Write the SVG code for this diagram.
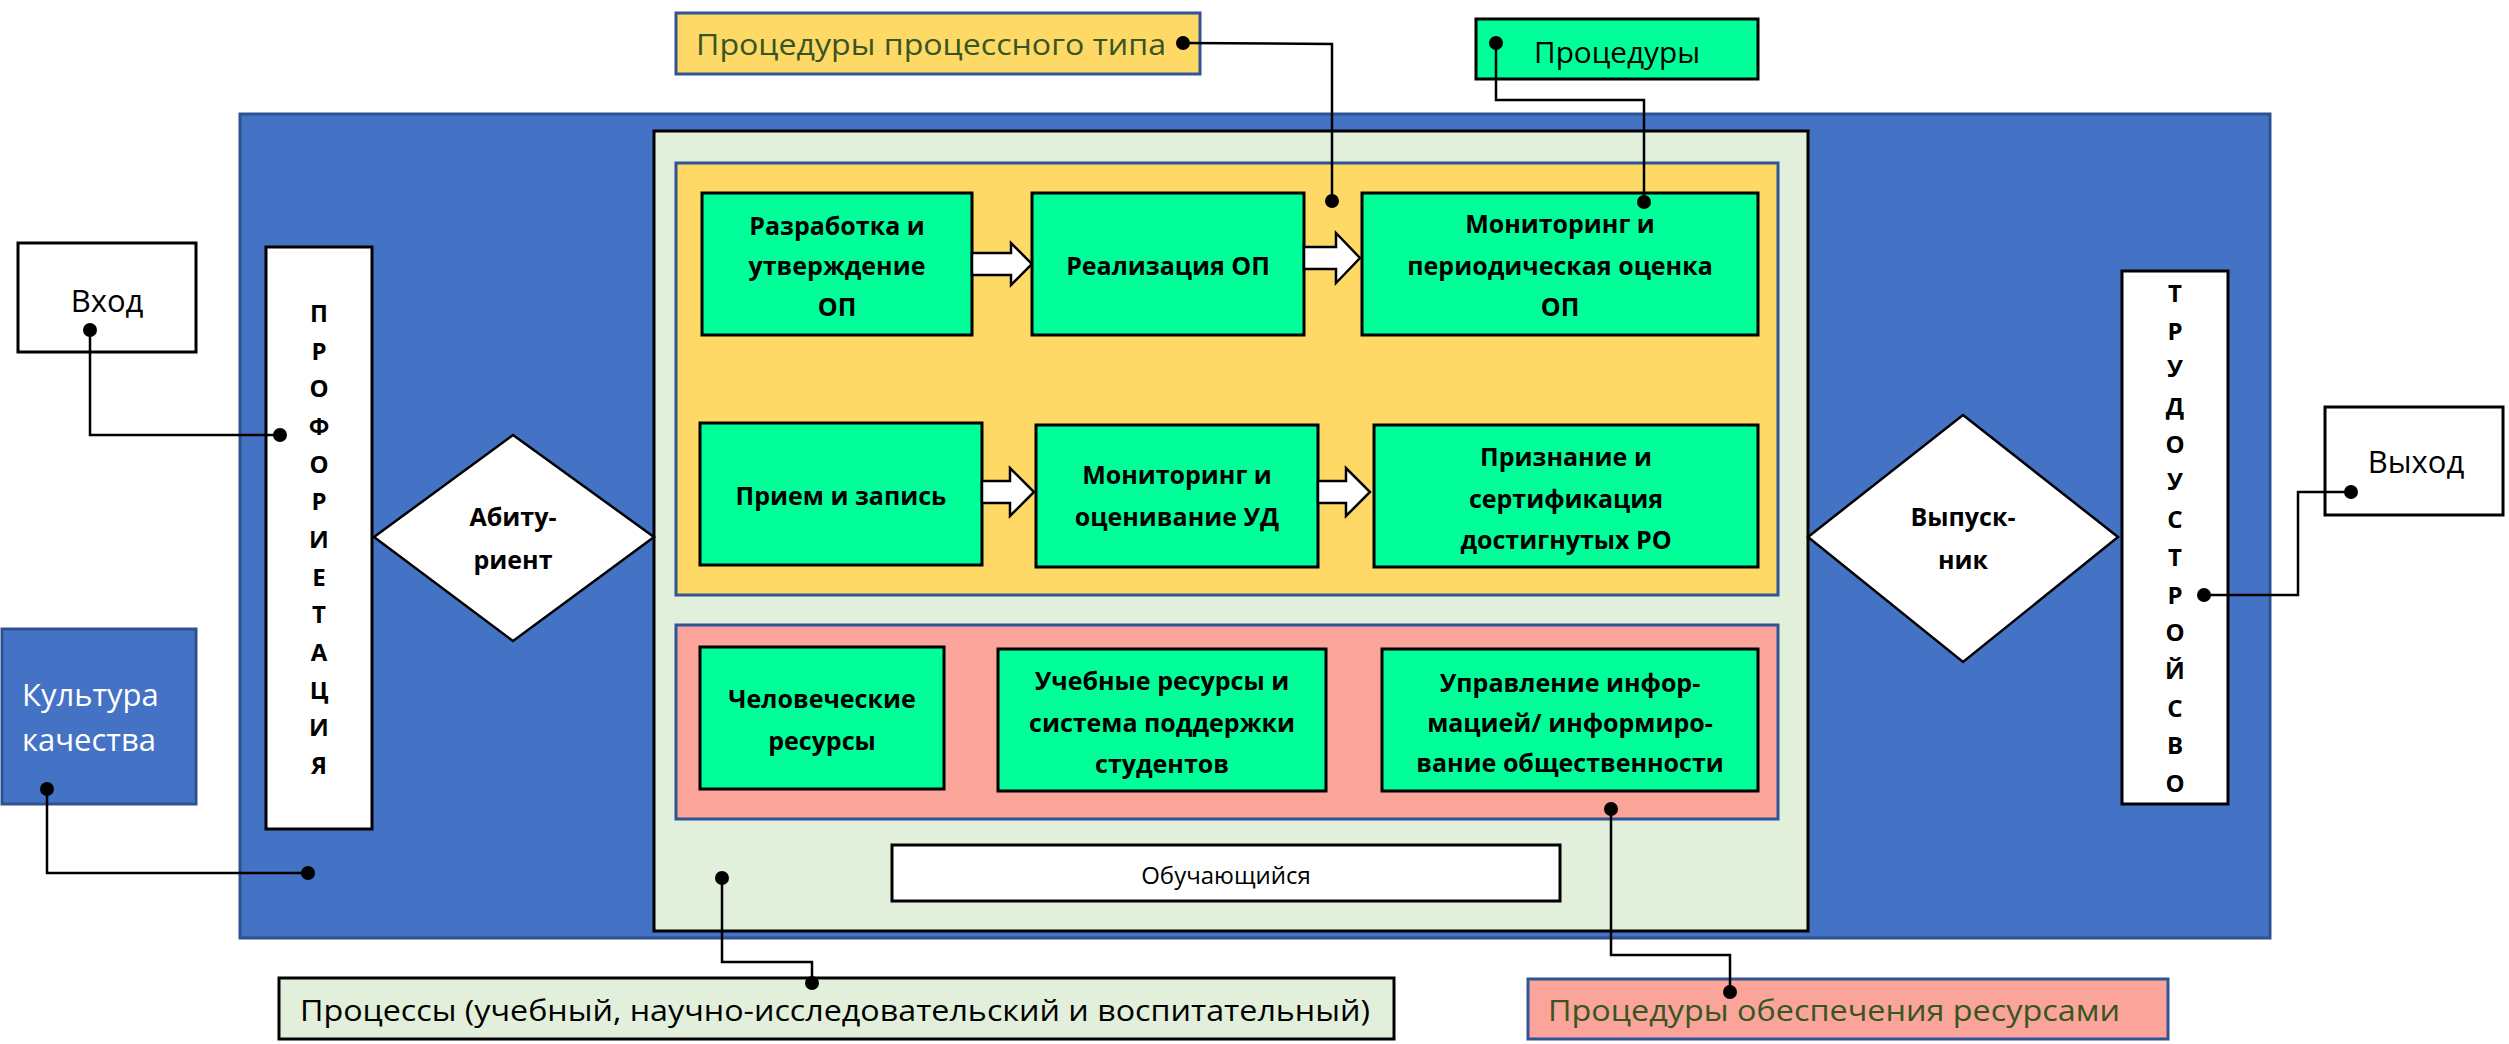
<svg xmlns="http://www.w3.org/2000/svg" width="2509" height="1044" viewBox="0 0 2509 1044">
<defs>
<style>
.box{fill:#00FF99;stroke:#000;stroke-width:3}
.wbox{fill:#FFFFFF;stroke:#000;stroke-width:3}
.bt{font-family:"Open Sans","Liberation Sans",Arial,sans-serif;font-weight:bold;font-size:25px;text-anchor:middle;fill:#000}
.vt{font-family:"Open Sans","Liberation Sans",Arial,sans-serif;font-weight:bold;font-size:24px;text-anchor:middle;fill:#000}
.rt{font-family:"Open Sans","Liberation Sans",Arial,sans-serif;font-size:29px;fill:#000}
.lt{font-size:31px}
.gt{fill:#375623}
.wt{fill:#FFFFFF}
.conn{fill:none;stroke:#000;stroke-width:2.5}
.barrow{fill:#FFFFFF;stroke:#000;stroke-width:2.5;stroke-linejoin:miter}
</style>
<marker id="dot" viewBox="0 0 16 16" refX="8" refY="8" markerWidth="16" markerHeight="16" markerUnits="userSpaceOnUse">
<circle cx="8" cy="8" r="7" fill="#000"/>
</marker>
</defs>
<rect width="2509" height="1044" fill="#FFFFFF"/>

<g id="main-frame">
<rect x="240" y="114" width="2030" height="824" fill="#4472C4" stroke="#2F528F" stroke-width="3"/>
</g>
<g id="processes-area">
<rect x="654" y="131" width="1154" height="800" fill="#E2EFDA" stroke="#000" stroke-width="3"/>
</g>
<g id="process-procedures-area">
<rect x="676" y="163" width="1102" height="432" fill="#FFD966" stroke="#2F5597" stroke-width="3"/>
</g>
<g id="resource-procedures-area">
<rect x="676" y="625" width="1102" height="194" fill="#FBA49A" stroke="#2F5597" stroke-width="3"/>
</g>

<g id="label-process-type">
<rect x="676" y="13" width="524" height="61" fill="#FFD966" stroke="#2F5597" stroke-width="3"/>
<text class="rt gt" x="696" y="55" textLength="470" lengthAdjust="spacingAndGlyphs">Процедуры процессного типа</text>
</g>
<g id="label-procedures">
<rect class="box" x="1476" y="19" width="282" height="60"/>
<text class="rt" x="1534" y="63" textLength="166" lengthAdjust="spacingAndGlyphs">Процедуры</text>
</g>
<g id="input">
<rect class="wbox" x="18" y="243" width="178" height="109"/>
<text class="rt lt" x="107" y="312" text-anchor="middle">Вход</text>
</g>
<g id="output">
<rect class="wbox" x="2325" y="407" width="178" height="108"/>
<text class="rt lt" x="2416" y="473" text-anchor="middle">Выход</text>
</g>
<g id="quality-culture">
<rect x="2" y="629" width="194" height="175" fill="#4472C4" stroke="#2F528F" stroke-width="3"/>
<text class="rt lt wt" x="22" y="706">Культура</text>
<text class="rt lt wt" x="22" y="751">качества</text>
</g>
<g id="proforientation">
<rect class="wbox" x="266" y="247" width="106" height="582"/>
<text class="vt" x="319"><tspan x="319" y="322">П</tspan><tspan x="319" y="360">Р</tspan><tspan x="319" y="397">О</tspan><tspan x="319" y="435">Ф</tspan><tspan x="319" y="473">О</tspan><tspan x="319" y="510">Р</tspan><tspan x="319" y="548">И</tspan><tspan x="319" y="586">Е</tspan><tspan x="319" y="623">Т</tspan><tspan x="319" y="661">А</tspan><tspan x="319" y="699">Ц</tspan><tspan x="319" y="736">И</tspan><tspan x="319" y="774">Я</tspan></text>
</g>
<g id="employment">
<rect class="wbox" x="2122" y="271" width="106" height="533"/>
<text class="vt" x="2175"><tspan x="2175" y="302">Т</tspan><tspan x="2175" y="340">Р</tspan><tspan x="2175" y="377">У</tspan><tspan x="2175" y="415">Д</tspan><tspan x="2175" y="453">О</tspan><tspan x="2175" y="490">У</tspan><tspan x="2175" y="528">С</tspan><tspan x="2175" y="566">Т</tspan><tspan x="2175" y="604">Р</tspan><tspan x="2175" y="641">О</tspan><tspan x="2175" y="679">Й</tspan><tspan x="2175" y="717">С</tspan><tspan x="2175" y="754">В</tspan><tspan x="2175" y="792">О</tspan></text>
</g>
<g id="applicant">
<polygon points="513,435 654,537 513,641 374,537" fill="#FFFFFF" stroke="#000" stroke-width="2.5"/>
<text class="bt" x="513" y="526">Абиту-</text>
<text class="bt" x="513" y="569">риент</text>
</g>
<g id="graduate">
<polygon points="1963,415 2118,537 1963,662 1808,537" fill="#FFFFFF" stroke="#000" stroke-width="2.5"/>
<text class="bt" x="1963" y="526">Выпуск-</text>
<text class="bt" x="1963" y="569">ник</text>
</g>

<g id="development">
<rect class="box" x="702" y="193" width="270" height="142"/>
<text class="bt" x="837" y="235">Разработка и</text>
<text class="bt" x="837" y="275">утверждение</text>
<text class="bt" x="837" y="316">ОП</text>
</g>
<g id="implementation">
<rect class="box" x="1032" y="193" width="272" height="142"/>
<text class="bt" x="1168" y="275">Реализация ОП</text>
</g>
<g id="monitoring-op">
<rect class="box" x="1362" y="193" width="396" height="142"/>
<text class="bt" x="1560" y="233">Мониторинг и</text>
<text class="bt" x="1560" y="275">периодическая оценка</text>
<text class="bt" x="1560" y="316">ОП</text>
</g>
<g id="admission">
<rect class="box" x="700" y="423" width="282" height="142"/>
<text class="bt" x="841" y="505">Прием и запись</text>
</g>
<g id="monitoring-ud">
<rect class="box" x="1036" y="425" width="282" height="142"/>
<text class="bt" x="1177" y="484">Мониторинг и</text>
<text class="bt" x="1177" y="526">оценивание УД</text>
</g>
<g id="recognition">
<rect class="box" x="1374" y="425" width="384" height="142"/>
<text class="bt" x="1566" y="466">Признание и</text>
<text class="bt" x="1566" y="508">сертификация</text>
<text class="bt" x="1566" y="549">достигнутых РО</text>
</g>
<g id="human-resources">
<rect class="box" x="700" y="647" width="244" height="142"/>
<text class="bt" x="822" y="708">Человеческие</text>
<text class="bt" x="822" y="750">ресурсы</text>
</g>
<g id="learning-resources">
<rect class="box" x="998" y="649" width="328" height="142"/>
<text class="bt" x="1162" y="690">Учебные ресурсы и</text>
<text class="bt" x="1162" y="732">система поддержки</text>
<text class="bt" x="1162" y="773">студентов</text>
</g>
<g id="information-management">
<rect class="box" x="1382" y="649" width="376" height="142"/>
<text class="bt" x="1570" y="692">Управление инфор-</text>
<text class="bt" x="1570" y="732">мацией/ информиро-</text>
<text class="bt" x="1570" y="772">вание общественности</text>
</g>
<g id="learner">
<rect class="wbox" x="892" y="845" width="668" height="56"/>
<text class="rt" x="1226" y="884" text-anchor="middle" style="font-size:24px">Обучающийся</text>
</g>
<g id="label-processes">
<rect x="279" y="978" width="1115" height="61" fill="#E2EFDA" stroke="#000" stroke-width="3"/>
<text class="rt" x="300" y="1021" textLength="1070" lengthAdjust="spacingAndGlyphs">Процессы (учебный, научно-исследовательский и воспитательный)</text>
</g>
<g id="label-resources">
<rect x="1528" y="979" width="640" height="60" fill="#FBA49A" stroke="#2F5597" stroke-width="3"/>
<text class="rt gt" x="1548" y="1021" textLength="572" lengthAdjust="spacingAndGlyphs">Процедуры обеспечения ресурсами</text>
</g>

<g id="connectors">
<polygon class="barrow" points="972,253 1011,253 1011,243 1032,264 1011,285 1011,275 972,275"/>
<polygon class="barrow" points="1304,247 1336,247 1336,233 1360,258 1336,283 1336,269 1304,269"/>
<polygon class="barrow" points="982,481 1010,481 1010,468 1034,492 1010,516 1010,503 982,503"/>
<polygon class="barrow" points="1318,481 1346,481 1346,468 1370,492 1346,516 1346,503 1318,503"/>
<polyline class="conn" points="1183,43 1332,44 1332,201" marker-start="url(#dot)" marker-end="url(#dot)"/>
<polyline class="conn" points="1496,43 1496,100 1644,100 1644,202" marker-start="url(#dot)" marker-end="url(#dot)"/>
<polyline class="conn" points="90,330 90,435 280,435" marker-start="url(#dot)" marker-end="url(#dot)"/>
<polyline class="conn" points="47,789 47,873 308,873" marker-start="url(#dot)" marker-end="url(#dot)"/>
<polyline class="conn" points="722,878 722,962 812,962 812,983" marker-start="url(#dot)" marker-end="url(#dot)"/>
<polyline class="conn" points="1611,809 1611,955 1730,955 1730,992" marker-start="url(#dot)" marker-end="url(#dot)"/>
<polyline class="conn" points="2204,595 2298,595 2298,492 2351,492" marker-start="url(#dot)" marker-end="url(#dot)"/>
</g>
</svg>
